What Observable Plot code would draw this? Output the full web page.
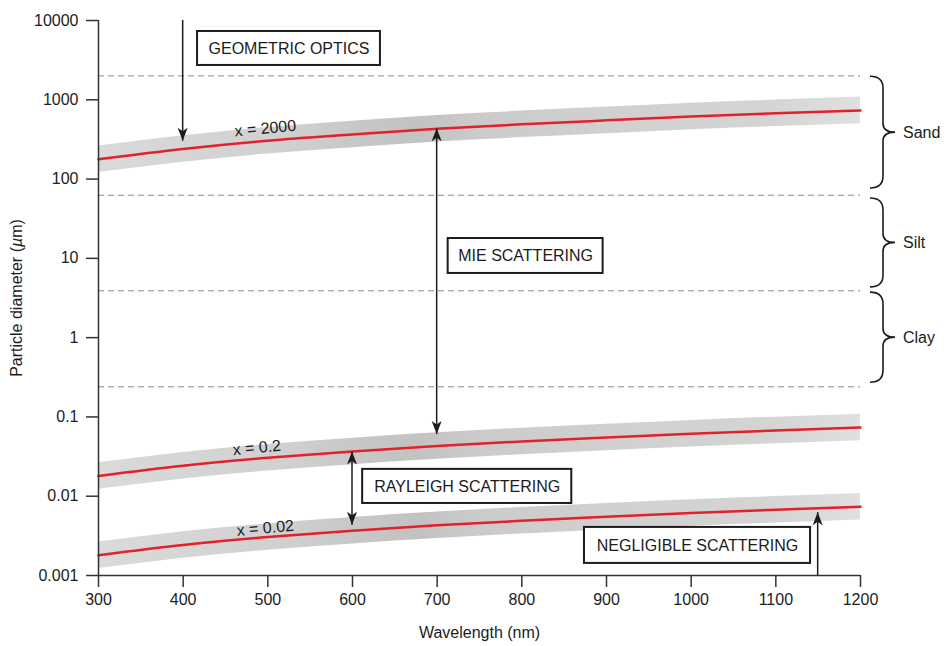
<!DOCTYPE html>
<html><head><meta charset="utf-8">
<script src="https://cdn.jsdelivr.net/npm/d3@7"></script>
<script src="https://cdn.jsdelivr.net/npm/@observablehq/plot@0.6"></script>
<style>
body{margin:0;background:#fff;}
#chart{font-family:"Liberation Sans",Arial,sans-serif;}
</style></head><body><div id="chart"></div>
<script>
// ---- data ----
const wavelengths = [300, 400, 500, 600, 700, 800, 900, 1000, 1100, 1200];
const curveX2000 = [178, 240, 305, 365, 430, 490, 550, 615, 675, 735];
const curveX02   = [0.0180, 0.0242, 0.0305, 0.0367, 0.0430, 0.0490, 0.0550, 0.0615, 0.0675, 0.0735];
const curveX002  = [0.00180, 0.00242, 0.00305, 0.00367, 0.00430, 0.00490, 0.00550, 0.00615, 0.00675, 0.00735];
const bandFactor = 1.47;

const curveLabels = ["x = 2000", "x = 0.2", "x = 0.02"];
const curveLabelWl = [497, 487, 497];
const curveLabelVal = [435, 0.0407, 0.00395];

const boundaries = [2000, 62.5, 3.9, 0.24];
const sizeClasses = ["Sand", "Silt", "Clay"];
const classTop = [1950, 57, 3.7];
const classBottom = [76, 4.3, 0.27];

const boxTexts = ["GEOMETRIC OPTICS", "MIE SCATTERING", "RAYLEIGH SCATTERING", "NEGLIGIBLE SCATTERING"];
const boxWl1 = [417, 713, 612, 874];
const boxWl2 = [633, 896, 859, 1141];
const boxTop = [7270, 17.8, 0.0218, 0.00404];
const boxBottom = [2710, 6.45, 0.0081, 0.00142];

const arrowWl = [400, 700, 600, 1150];
const arrowFrom = [10000, 0.06, 0.0043, 0.001];
const arrowTo = [300, 430, 0.036, 0.0062];
const arrowBoth = [false, true, true, false];

const xTicks = [300, 400, 500, 600, 700, 800, 900, 1000, 1100, 1200];
const yTicks = [0.001, 0.01, 0.1, 1, 10, 100, 1000, 10000];
const yTickLabels = ["0.001", "0.01", "0.1", "1", "10", "100", "1000", "10000"];

// ---- tables ----
const curves = [curveX2000, curveX02, curveX002];
const curveData = curves.flatMap((c, k) => wavelengths.map((w, i) => ({wl: w, v: c[i], lo: c[i] / bandFactor, hi: c[i] * bandFactor, k})));
const labelData = curveLabels.map((t, i) => ({t, wl: curveLabelWl[i], v: curveLabelVal[i]}));
const boxData = boxTexts.map((t, i) => ({t, x1: boxWl1[i], x2: boxWl2[i], y1: boxBottom[i], y2: boxTop[i], cx: (boxWl1[i] + boxWl2[i]) / 2, cy: Math.sqrt(boxTop[i] * boxBottom[i])}));
const arrowData = arrowWl.map((w, i) => ({wl: w, from: arrowFrom[i], to: arrowTo[i], both: arrowBoth[i]}));
const braceData = sizeClasses.map((t, i) => ({t, top: classTop[i], bottom: classBottom[i]}));

const ink = "#1c1c1c";

function gradientMark(index, scales) {
  const g = d3.create("svg:g");
  const lg = g.append("defs").append("linearGradient")
    .attr("id", "bandGrad").attr("gradientUnits", "userSpaceOnUse")
    .attr("x1", scales.x(300)).attr("x2", scales.x(1200)).attr("y1", 0).attr("y2", 0);
  [[0, "#dadada"], [0.25, "#d0d0d0"], [0.33, "#c8c8c8"], [0.42, "#c2c2c2"], [0.5, "#cbcbcb"], [0.7, "#d1d1d1"], [0.88, "#d4d4d4"], [1, "#e0e0e0"]]
    .forEach(([o, c]) => lg.append("stop").attr("offset", o).attr("stop-color", c));
  return g.node();
}

function head(g, x, y, dir) {
  const L = 13, w = 5, n = 3.5;
  const p = [[x, y], [x - w, y - dir * L], [x, y - dir * (L - n)], [x + w, y - dir * L]];
  g.append("path").attr("d", "M" + p.map(q => q.join(",")).join("L") + "Z").attr("fill", ink);
}

function arrowMark(index, scales) {
  const g = d3.create("svg:g");
  for (const a of arrowData) {
    const x = scales.x(a.wl), y1 = scales.y(a.from), y2 = scales.y(a.to);
    g.append("line").attr("x1", x).attr("x2", x).attr("y1", y1).attr("y2", y2)
      .attr("stroke", ink).attr("stroke-width", 1.5);
    const dir = y2 > y1 ? 1 : -1;
    head(g, x, y2, dir);
    if (a.both) head(g, x, y1, -dir);
  }
  return g.node();
}

function braceMark(index, scales) {
  const g = d3.create("svg:g").attr("text-anchor", "start");
  const xr = scales.x(1200);
  const x0 = xr + 10, xv = xr + 23, xt = xr + 35;
  for (const b of braceData) {
    const yt = scales.y(b.top), yb = scales.y(b.bottom), ym = (yt + yb) / 2;
    const d = `M${x0},${yt} Q${xv},${yt} ${xv},${yt + 12} L${xv},${ym - 9} Q${xv},${ym} ${xt},${ym} Q${xv},${ym} ${xv},${ym + 9} L${xv},${yb - 12} Q${xv},${yb} ${x0},${yb}`;
    g.append("path").attr("d", d).attr("fill", "none").attr("stroke", ink).attr("stroke-width", 1.6);
    g.append("text").attr("x", xt + 8).attr("y", ym).attr("dy", "0.35em")
      .attr("text-anchor", "start").attr("font-size", 16).attr("fill", ink).text(b.t);
  }
  return g.node();
}

const chart = Plot.plot({
  width: 947,
  height: 646,
  marginLeft: 98,
  marginRight: 87,
  marginTop: 20,
  marginBottom: 71,
  style: {fontFamily: '"Liberation Sans", Arial, sans-serif', fontSize: "16px", color: ink, background: "#fff"},
  x: {domain: [300, 1200]},
  y: {type: "log", domain: [0.001, 10000]},
  marks: [
    gradientMark,
    Plot.ruleY(boundaries, {stroke: "#8a8a8a", strokeWidth: 1, strokeDasharray: "6,4"}),
    Plot.areaY(curveData, {x: "wl", y1: "lo", y2: "hi", z: "k", fill: "url(#bandGrad)", curve: "monotone-x"}),
    Plot.line(curveData, {x: "wl", y: "v", z: "k", stroke: "#e3202b", strokeWidth: 2.5, curve: "monotone-x"}),
    Plot.text(labelData, {x: "wl", y: "v", text: "t", rotate: -5.5, fontSize: 16, fill: ink}),
    arrowMark,
    Plot.rect(boxData, {x1: "x1", x2: "x2", y1: "y1", y2: "y2", fill: "white", stroke: ink, strokeWidth: 2}),
    Plot.text(boxData, {x: "cx", y: "cy", text: "t", fontSize: 16, fill: ink}),
    Plot.ruleX([300], {stroke: "#333", strokeWidth: 1.5}),
    Plot.ruleY([0.001], {stroke: "#333", strokeWidth: 1.5}),
    Plot.axisX({ticks: xTicks, tickSize: 12, tickPadding: 6, tickFormat: d => String(d), label: "Wavelength (nm)", labelAnchor: "center", labelArrow: "none", labelOffset: 62, stroke: "#333", strokeWidth: 1.5}),
    Plot.axisY({ticks: yTicks, tickSize: 12, tickPadding: 8, tickFormat: d => yTickLabels[yTicks.indexOf(d)], label: "Particle diameter (µm)", labelAnchor: "center", labelArrow: "none", labelOffset: 88, stroke: "#333", strokeWidth: 1.5}),
    braceMark
  ]
});
document.getElementById("chart").appendChild(chart);
// italic µ in y-axis title
d3.select(chart).selectAll("text").each(function () {
  const t = d3.select(this);
  if (t.text() === "Particle diameter (µm)") {
    t.text(null);
    t.append("tspan").text("Particle diameter (");
    t.append("tspan").attr("font-style", "italic").text("µ");
    t.append("tspan").text("m)");
  }
});
</script></body></html>
